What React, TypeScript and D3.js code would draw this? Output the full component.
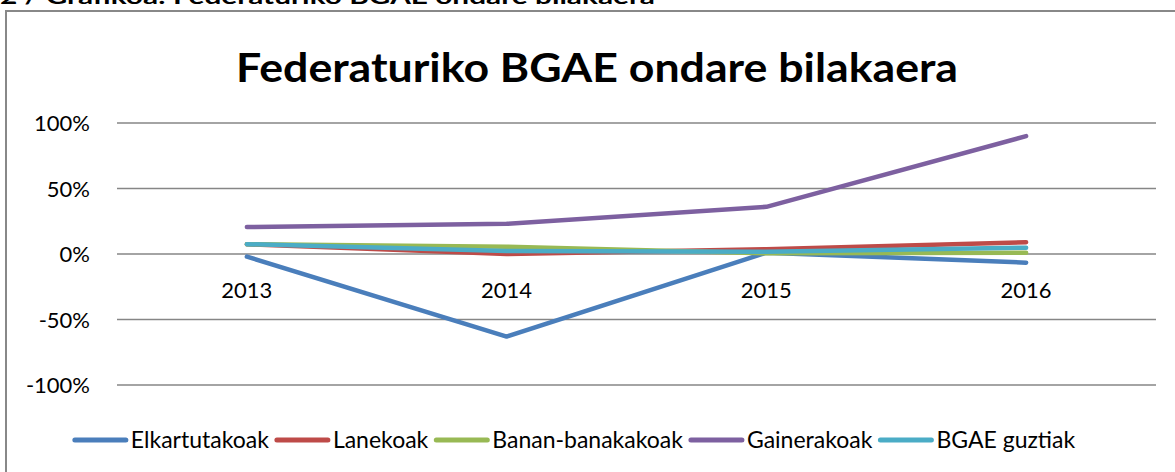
import React, { useEffect, useRef } from "react";
import * as d3 from "d3";

const years = ["2013", "2014", "2015", "2016"];
const yTicks = [-1, -0.5, 0, 0.5, 1];
const seriesNames = ["Elkartutakoak", "Lanekoak", "Banan-banakakoak", "Gainerakoak", "BGAE guztiak"];
const elkartutakoak = [-0.02, -0.63, 0.01, -0.066];
const lanekoak = [0.074, 0.0, 0.036, 0.09];
const bananBanakakoak = [0.075, 0.056, 0.005, 0.01];
const gainerakoak = [0.206, 0.23, 0.36, 0.9];
const bgaeGuztiak = [0.075, 0.023, 0.018, 0.048];
const colors = ["#4A7EBB", "#BE4B48", "#98B954", "#7D60A0", "#4BACC6"];

const W = 1175;
const H = 472;
const FONT = "Lato, 'Open Sans', sans-serif";

export default function App() {
  const ref = useRef<SVGSVGElement>(null);

  useEffect(() => {
    const svg = d3.select(ref.current);
    svg.selectAll("*").remove();
    const values = [elkartutakoak, lanekoak, bananBanakakoak, gainerakoak, bgaeGuztiak];

    // cut-off page caption
    svg.append("text")
      .attr("x", 0).attr("y", 4)
      .attr("font-family", FONT).attr("font-weight", "bold").attr("font-size", 20)
      .attr("textLength", 655).attr("lengthAdjust", "spacingAndGlyphs")
      .text("2 / Grafikoa: Federaturiko BGAE ondare bilakaera");

    // chart border
    svg.append("rect")
      .attr("x", 6).attr("y", 11).attr("width", 1200).attr("height", 500)
      .attr("fill", "white").attr("stroke", "#888").attr("stroke-width", 2);

    // title
    svg.append("text")
      .attr("x", 236).attr("y", 82)
      .attr("font-family", FONT).attr("font-weight", "bold").attr("font-size", 40)
      .attr("textLength", 722).attr("lengthAdjust", "spacingAndGlyphs")
      .text("Federaturiko BGAE ondare bilakaera");

    const x = d3.scaleBand<string>().domain(years).range([117, 1156]);
    const y = d3.scaleLinear().domain([-1, 1]).range([385, 123]);
    const pct = (d: number) => `${Math.round(d * 100)}%`;

    // gridlines
    svg.append("g").selectAll("line").data(yTicks).join("line")
      .attr("x1", 117).attr("x2", 1156)
      .attr("y1", (d) => y(d)).attr("y2", (d) => y(d))
      .attr("stroke", "#868686").attr("stroke-width", 1.5);

    // y labels
    svg.append("g").selectAll("text").data(yTicks).join("text")
      .attr("x", 90).attr("y", (d) => y(d) + 8)
      .attr("text-anchor", "end")
      .attr("font-family", FONT).attr("font-size", 22).attr("fill", "#000")
      .text((d) => pct(d));

    // x labels
    svg.append("g").selectAll("text").data(years).join("text")
      .attr("x", (d) => (x(d) as number) + x.bandwidth() / 2).attr("y", 298)
      .attr("text-anchor", "middle")
      .attr("font-family", FONT).attr("font-size", 22).attr("fill", "#000")
      .text((d) => d);

    const line = d3.line<number>()
      .x((_, i) => (x(years[i]) as number) + x.bandwidth() / 2)
      .y((d) => y(d));

    svg.append("g").selectAll("path").data(values).join("path")
      .attr("d", (d) => line(d))
      .attr("fill", "none")
      .attr("stroke", (_, i) => colors[i])
      .attr("stroke-width", 4.5)
      .attr("stroke-linecap", "round")
      .attr("stroke-linejoin", "round");

    // legend
    const lg = svg.append("g");
    const items = seriesNames.map((name, i) => {
      const g = lg.append("g");
      g.append("line").attr("x1", 0).attr("x2", 51).attr("y1", 0).attr("y2", 0)
        .attr("stroke", colors[i]).attr("stroke-width", 5).attr("stroke-linecap", "round");
      const t = g.append("text").attr("x", 56).attr("y", 8)
        .attr("font-family", FONT).attr("font-size", 23).attr("fill", "#000").text(name);
      const w = (t.node() as SVGTextElement).getComputedTextLength();
      return { g, w: 56 + w };
    });
    const gap = 8;
    const total = items.reduce((s, it) => s + it.w, 0) + gap * (items.length - 1);
    let cx = 575 - total / 2;
    items.forEach((it) => {
      it.g.attr("transform", `translate(${cx},440)`);
      cx += it.w + gap;
    });
  }, []);

  return (
    <svg ref={ref} width={W} height={H} style={{ position: "absolute", left: 0, top: 0, background: "white" }} />
  );
}
